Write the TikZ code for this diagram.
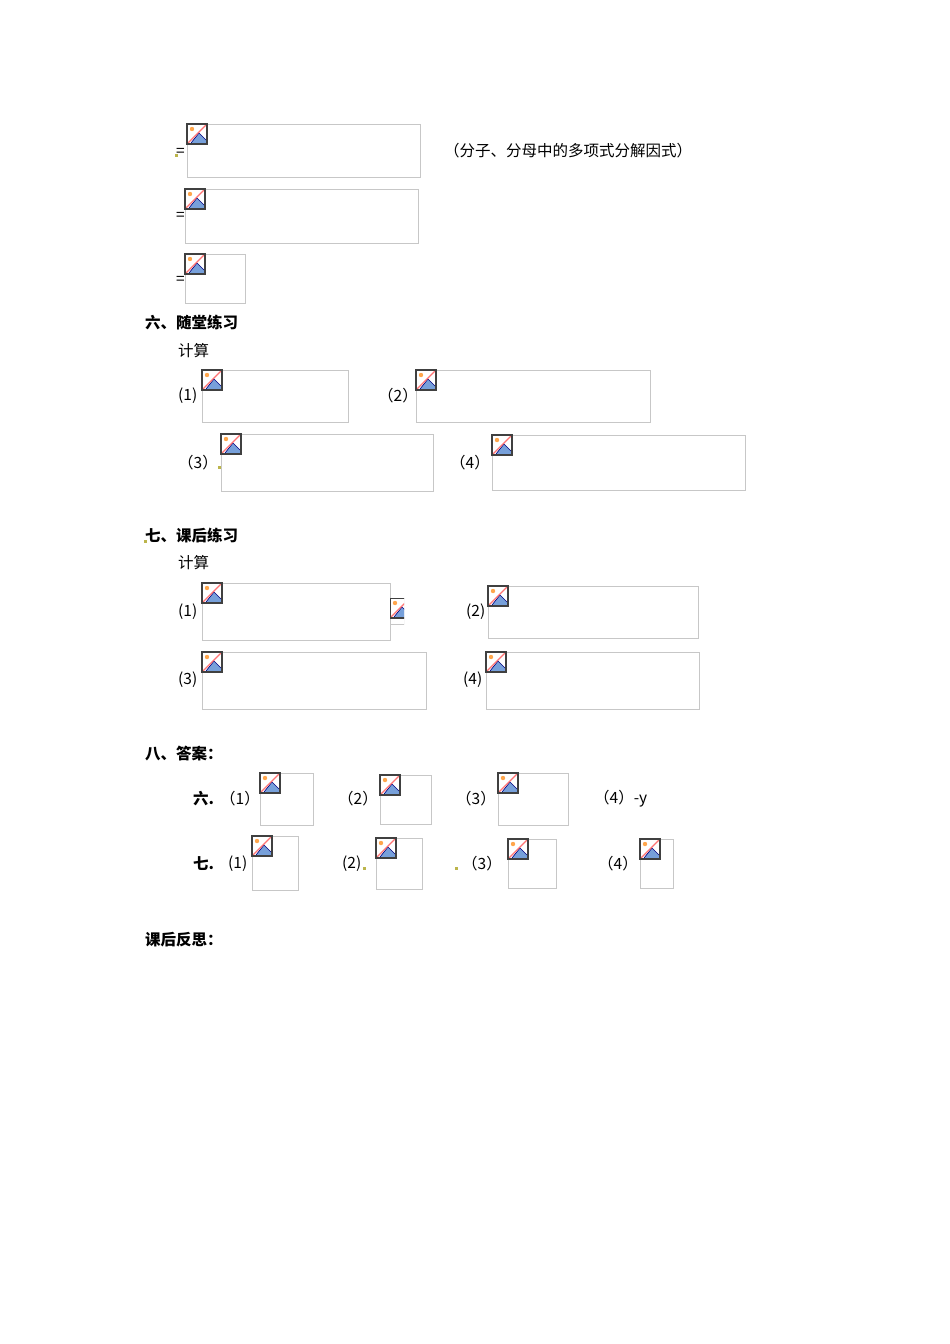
\documentclass[tikz,border=0pt]{standalone}
\usepackage{fontspec}
\setmainfont{Liberation Serif}
\newfontfamily\cjk{Noto Sans CJK SC}
\begin{document}
\begin{tikzpicture}[x=1pt,y=-1pt,
  txt/.style={anchor=west,inner sep=0pt,font=\cjk\fontsize{15.5}{16}\selectfont},
  bold/.style={txt,font=\cjk\bfseries\fontsize{15.5}{16}\selectfont},
  frame/.style={draw=black!22,line width=0.9pt}]
\useasboundingbox[fill=white] (0,0) rectangle (950,1344);
\newcommand\ico[2]{%
  \begin{scope}[shift={(#1,#2)}]
  \fill[white] (0,0) rectangle (20,20);
  \fill[cyan!50!blue!55] (4,19) -- (12,9) -- (19,16) -- (19,19) -- cycle;
  \draw[blue!50!black,line width=0.6pt] (4,19) -- (12,9) -- (19,16);
  \fill[orange!70] (5,5) circle (2.2);
  \draw[red!55,line width=1.3pt] (1,19) -- (19,1);
  \draw[black!75,line width=1.2pt] (0,0) rectangle (20,20);
  \end{scope}}
\newcommand\fbx[5]{\draw[frame] (#1,#2) rectangle (#3,#4); \coordinate (#5) at (#1,#2); \ico{#1}{#2}}
\fbx{187}{124}{420}{177}{b1}
\fbx{185}{189}{418}{243}{b2}
\fbx{185}{254}{245}{303}{b3}
\fbx{202}{370}{348}{422}{b4}
\fbx{416}{370}{650}{422}{b5}
\fbx{221}{434}{433}{491}{b6}
\fbx{492}{435}{745}{490}{b7}
\fbx{202}{583}{390}{640}{b8}
\begin{scope}\clip (390,598) rectangle (404,624); \draw[frame] (390,598) rectangle (404,624); \ico{390}{598}\end{scope}
\fbx{488}{586}{698}{638}{b9}
\fbx{202}{652}{426}{709}{b10}
\fbx{486}{652}{699}{709}{b11}
\fbx{260}{773}{313}{825}{a1}
\fbx{380}{775}{431}{824}{a2}
\fbx{498}{773}{568}{825}{a3}
\fbx{252}{836}{298}{890}{c1}
\fbx{376}{838}{422}{889}{c2}
\fbx{508}{839}{556}{888}{c3}
\fbx{640}{839}{673}{888}{c4}
\node[txt] (e1) at (176,152) {=};
\node[txt] (e2) at (176,216) {=};
\node[txt] (e3) at (176,280) {=};
\fill[olive!60] (175,154) rectangle (178,157);
\fill[olive!60] (218,466) rectangle (221,469);
\fill[olive!60] (144,540) rectangle (147,543);
\fill[olive!60] (363,867) rectangle (366,870);
\fill[olive!60] (455,867) rectangle (458,870);
\node[txt] (n1) at (444,151) {（分子、分母中的多项式分解因式）};
\node[bold] (h6) at (145,323) {六、随堂练习};
\node[txt] (j1) at (178,351) {计算};
\node[txt] (p1) at (178,396) {(1)};
\node[txt] (p2) at (378,396) {（2）};
\node[txt] (p3) at (178,463) {（3）};
\node[txt] (p4) at (450,463) {（4）};
\node[bold] (h7) at (145,536) {七、课后练习};
\node[txt] (j2) at (178,563) {计算};
\node[txt] (q1) at (178,612) {(1)};
\node[txt] (q2) at (466,612) {(2)};
\node[txt] (q3) at (178,680) {(3)};
\node[txt] (q4) at (463,680) {(4)};
\node[bold] (h8) at (145,754) {八、答案：};
\node[bold] (s6) at (193,799) {六.};
\node[txt] (r1) at (220,799) {（1）};
\node[txt] (r2) at (338,799) {（2）};
\node[txt] (r3) at (456,799) {（3）};
\node[txt] (r4) at (594,799) {（4）-y};
\node[bold] (s7) at (193,864) {七.};
\node[txt] (t1) at (228,864) {(1)};
\node[txt] (t2) at (342,864) {(2)};
\node[txt] (t3) at (462,864) {（3）};
\node[txt] (t4) at (598,864) {（4）};
\node[bold] (h9) at (145,940) {课后反思：};
\end{tikzpicture}
\end{document}
